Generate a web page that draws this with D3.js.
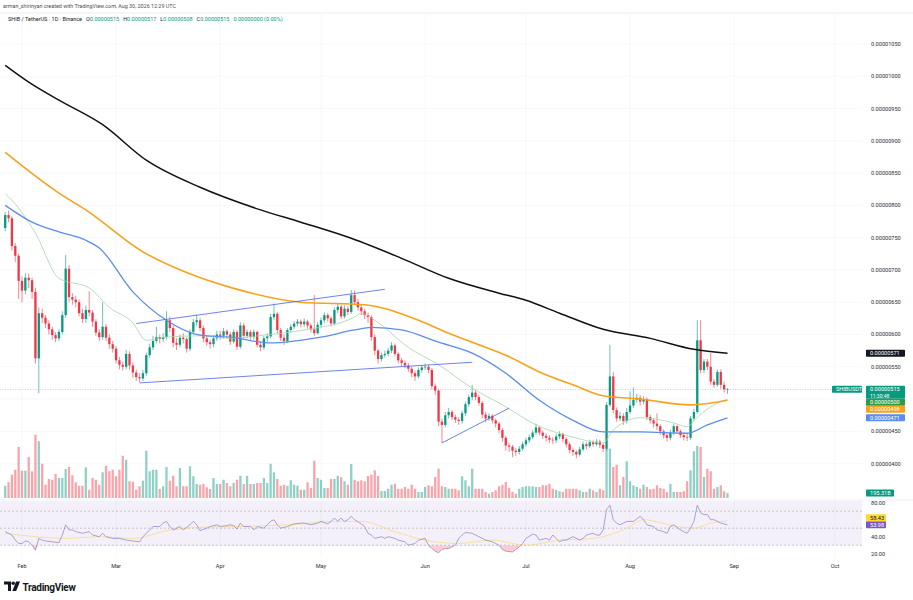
<!DOCTYPE html>
<html>
<head>
<meta charset="utf-8">
<script src="https://cdn.jsdelivr.net/npm/d3@7"></script>
<style>
  html, body { margin: 0; padding: 0; background: #fff; }
  svg { display: block; font-family: Roboto, "Liberation Sans", sans-serif; }
</style>
</head>
<body>
<svg id="chart" width="913" height="600"></svg>
<script>
// SHIB/USDT daily, prices in 1e-8 USDT, day 0 = 2026-01-27
const startDay = Date.UTC(2026, 0, 27);
const firstOpen = 765;

const closes = [
  785,780,737,722,683,668,688,684,666,563, 633,626,617,608,599,594,604,630,702,658,
  654,650,633,624,638,634,620,603,596,612, 595,585,578,560,553,550,570,552,541,534,
  532,540,568,580,590,596,593,596,622,610, 587,584,595,593,578,604,619,622,610,594,
  588,585,594,600,598,605,600,589,604,581, 614,598,604,596,604,584,580,594,597,627,
  632,607,595,590,607,612,617,620,616,620, 614,608,602,615,622,630,625,617,638,643,
  628,640,635,661,650,642,636,630,627,596, 575,562,568,570,575,583,570,560,556,552,
  547,540,535,545,549,550,545,520,513,465, 460,475,480,472,468,466,478,492,503,510,
  503,494,476,470,474,467,462,452,440,428, 426,420,418,423,430,436,441,448,456,448,
  443,440,437,436,442,446,438,430,421,418, 414,422,430,427,433,430,434,429,423,491,
  535,483,470,474,466,480,490,499,502,496, 500,472,467,462,458,450,444,440,448,458,
  450,444,441,440,470,480,591,545,558,550, 527,522,542,522,515,515
];
const highs = [
  790,792,783,742,725,690,695,694,688,672, 642,640,630,622,612,604,608,636,723,708,
  664,660,654,640,645,667,638,624,608,650, 616,600,590,582,565,558,576,574,557,546,
  540,545,572,586,598,612,600,602,636,628, 614,595,600,602,596,608,624,631,626,614,
  598,592,599,606,606,610,608,604,608,607, 619,618,608,607,608,606,590,598,602,632,
  648,635,610,600,610,616,621,624,623,625, 623,617,661,619,626,634,633,628,642,648,
  646,645,644,669,668,655,647,640,634,630, 600,578,572,575,579,588,586,573,564,560,
  556,550,544,549,553,555,553,548,524,516, 470,480,486,483,476,472,482,496,507,522,
  514,507,497,480,478,477,470,465,455,443, 432,429,424,427,434,440,445,452,462,458,
  451,447,444,441,446,450,448,441,433,425, 421,426,434,433,437,436,438,437,432,495,
  584,542,487,480,478,486,512,518,508,506, 504,503,476,470,478,461,453,448,452,462,
  460,453,448,446,474,485,622,622,562,562, 571,531,546,546,527,517
];
const lows = [
  760,774,730,712,655,650,662,672,655,555, 509,618,610,600,592,588,590,600,626,650,
  646,642,628,618,618,628,612,598,590,592, 590,578,572,555,546,544,546,546,533,528,
  526,528,536,564,576,586,586,588,592,604, 580,576,580,586,572,574,600,614,605,588,
  582,578,580,590,592,594,595,584,586,576, 578,594,594,592,592,580,574,576,588,594,
  622,602,590,584,587,603,608,613,611,612, 609,603,598,600,611,618,620,612,614,633,
  624,625,630,632,645,637,630,624,618,590, 568,555,558,564,566,571,566,555,550,548,
  542,534,528,532,541,545,540,515,506,458, 432,456,470,467,463,460,462,474,488,498,
  498,490,470,464,466,462,456,447,434,420, 418,410,412,414,420,426,432,438,445,444,
  438,434,432,430,432,438,433,425,416,412, 408,411,419,422,424,426,427,424,418,420,
  488,478,465,466,460,462,477,486,494,490, 492,467,462,456,452,445,439,434,436,444,
  446,440,436,435,437,466,477,540,540,545, 522,517,519,516,510,508
];
// volume in billions of SHIB
const volumes = [
  490,630,930,1130,2040,1090,1090,1640,1070,2530, 2270,1370,530,760,730,960,800,800,1160,1240,
  910,630,490,490,1230,330,800,730,530,1030, 1290,1070,1130,870,1130,1690,1530,670,640,330,
  470,690,1890,1070,1130,1130,360,470,1240,690, 890,470,1200,470,470,1270,870,560,530,560,
  430,360,800,560,560,730,600,470,600,730, 890,560,890,560,560,600,600,800,600,1370,
  1030,760,490,530,490,710,530,490,330,330, 630,400,1490,800,730,400,400,760,760,890,
  830,670,530,1360,730,670,710,670,880,930, 1110,880,280,280,370,530,570,370,370,440,
  370,530,370,240,240,440,510,470,840,1170, 470,440,370,370,370,310,870,710,470,1170,
  370,370,370,240,170,240,310,470,530,640, 410,240,170,370,440,470,470,470,440,440,
  510,510,570,370,330,270,240,370,370,370, 370,310,240,240,370,310,240,370,310,1970,
  1970,1240,1330,510,840,1470,670,510,440,370, 530,440,350,370,510,400,370,240,570,240,
  240,240,270,670,1110,1870,2080,2040,840,1170, 1070,370,440,510,270,195.31
];

// moving averages: [day, price]
const sma200 = [[0,1017],[7,991],[16,963],[29,925],[42,870],[58,828],[76,793],[88,774],[103,749],
  [118,718],[132,687],[147,664],[155,653],[165,633],[178,608],[192,594],[205,577],[215,571]];
const sma100 = [[0,882],[16,819],[24,793],[41,728],[54,696],[67,673],[88,650],[107,646],[123,622],
  [132,602],[139,588],[149,568],[159,542],[169,522],[178,505],[189,500],[204,491],[215,498]];
const sma50 = [[0,800],[8,774],[16,759],[24,746],[28,734],[38,666],[48,622],[58,599],[67,596],
  [79,587],[94,596],[104,607],[109,611],[118,607],[129,588],[139,571],[149,540],[159,498],
  [169,467],[178,449],[189,449],[203,447],[209,460],[215,471]];
const sma20 = [[0,818],[2,808],[9,757],[16,687],[25,672],[31,642],[38,618],[42,591],[48,596],
  [58,598],[67,594],[77,599],[89,607],[104,627],[106,633],[110,622],[120,580],[129,553],
  [139,517],[149,488],[158,460],[169,441],[178,432],[181,452],[189,471],[199,463],[203,457],
  [206,472],[211,491],[215,500]];

// hand-drawn trend lines: [day, price] pairs
const trendLines = [
  [[39,617],[113,670]],
  [[40,525],[139,557]],
  [[130,432],[150,486]]
];

// RSI(14) and its moving average: [day, value]
const rsiPts = [[0,46],[2,42],[3,36],[4,32],[5,32],[6,35],[7,34],[8,30],[9,24],[10,38],[11,36],
  [12,35],[14,34],[16,33],[17,42],[18,54],[19,48],[20,48],[21,46],[23,44],[25,46],[26,42],[28,40],
  [29,44],[30,40],[32,38],[34,38],[36,36],[38,35],[40,34],[41,40],[43,48],[44,52],[46,52],[47,56],
  [48,58],[49,52],[50,48],[51,50],[52,52],[53,48],[55,54],[56,58],[57,54],[58,47],[60,50],[61,52],
  [63,54],[64,52],[66,53],[67,54],[68,53],[69,49],[70,56],[71,52],[73,52],[74,48],[75,52],[77,50],
  [78,54],[79,58],[80,60],[81,54],[82,50],[84,52],[86,55],[88,56],[89,56],[91,54],[93,56],[94,58],
  [96,55],[97,58],[98,62],[99,58],[100,62],[101,58],[102,60],[103,64],[104,60],[106,55],[107,52],
  [108,44],[109,42],[110,38],[112,40],[113,38],[114,40],[116,38],[117,36],[119,34],[120,30],[122,32],
  [123,36],[125,38],[126,30],[127,26],[128,23],[129,21],[130,25],[131,26],[132,26],[134,30],[135,38],
  [136,42],[137,45],[139,44],[141,40],[143,36],[145,34],[146,32],[147,30],[148,25],[149,23],[151,22],
  [152,25],[153,28],[154,32],[155,38],[157,43],[158,42],[159,36],[161,38],[162,36],[163,42],[164,38],
  [165,34],[166,36],[167,36],[169,40],[171,36],[172,38],[173,42],[175,44],[176,42],[177,42],[178,48],
  [179,72],[180,77],[181,60],[182,56],[183,54],[184,56],[185,58],[187,58],[188,61],[189,64],[190,60],
  [191,54],[193,52],[194,48],[196,46],[197,44],[198,52],[199,54],[201,48],[202,46],[203,44],[204,50],
  [205,58],[206,77],[207,68],[208,66],[209,66],[210,60],[211,60],[213,56],[214,55],[215,53.98]];
const rsiMaPts = [[0,44],[9,40],[18,38],[28,40],[38,38],[48,47],[58,51],[70,52],[78,53],[88,55],
  [98,58],[106,58],[116,46],[125,36],[135,32],[145,36],[155,30],[165,36],[175,38],[185,50],
  [190,60],[200,52],[205,50],[210,56],[215,58.43]];

const priceTicks = [400,450,500,550,600,650,700,750,800,850,900,950,1000,1050];
const hiddenPriceTicks = [500];
const monthNames = ['Feb','Mar','Apr','May','Jun','Jul','Aug','Sep','Oct'];
const monthStarts = ['2026-02-01','2026-03-01','2026-04-01','2026-05-01','2026-06-01',
  '2026-07-01','2026-08-01','2026-09-01','2026-10-01'];
const rsiTicks = [80, 40, 20];
const rsiLevels = [70, 50, 30];

// ---------- layout ----------
const svg = d3.select('#chart');
const plotRight = 862;
const mainTop = 14, mainBottom = 500, rsiBottom = 558;
const UP = '#089981', DOWN = '#f23645';
const axisText = '#2a2e39';

const dayDate = i => new Date(startDay + i * 864e5);
const x = d3.scaleUtc()
  .domain([new Date('2026-02-01T00:00:00Z'), new Date('2026-10-01T00:00:00Z')])
  .range([22, 835]);
const y = d3.scaleLinear().domain([400, 1050]).range([463.6, 44]);
const yVol = d3.scaleLinear().domain([0, 2560]).range([498, 434]);
const yRsi = d3.scaleLinear().domain([20, 80]).range([553.7, 502.7]);
const fmt = v => (v / 1e8).toFixed(8);

const candles = closes.map((c, i) => ({
  i, c, o: i ? closes[i - 1] : firstOpen, h: highs[i], l: lows[i], v: volumes[i]
}));

const defs = svg.append('defs');
defs.append('clipPath').attr('id', 'mainClip')
  .append('rect').attr('x', 0).attr('y', mainTop).attr('width', plotRight).attr('height', mainBottom - mainTop);
defs.append('clipPath').attr('id', 'rsiClip')
  .append('rect').attr('x', 0).attr('y', mainBottom).attr('width', plotRight).attr('height', rsiBottom - mainBottom);
defs.append('clipPath').attr('id', 'overSold')
  .append('rect').attr('x', 0).attr('y', yRsi(30)).attr('width', plotRight).attr('height', 40);

// header
svg.append('text').attr('x', 3).attr('y', 8).attr('font-size', 5.4).attr('fill', '#4a4e59')
  .text('arman_shirinyan created with TradingView.com, Aug 30, 2026 12:29 UTC');
svg.append('line').attr('x1', 0).attr('x2', 913).attr('y1', 13).attr('y2', 13)
  .attr('stroke', '#e0e3eb').attr('stroke-width', 0.6);

// grid
const grid = svg.append('g').attr('stroke', '#f0f3fa').attr('stroke-width', 0.6);
grid.selectAll('.h').data(priceTicks).join('line')
  .attr('x1', 0).attr('x2', plotRight).attr('y1', d => y(d)).attr('y2', d => y(d));
grid.selectAll('.v').data(monthStarts).join('line')
  .attr('x1', d => x(new Date(d + 'T00:00:00Z'))).attr('x2', d => x(new Date(d + 'T00:00:00Z')))
  .attr('y1', mainTop).attr('y2', rsiBottom);

// legend
const legend = svg.append('text').attr('x', 8).attr('y', 21).attr('font-size', 5.5).attr('fill', '#131722');
const legendParts = [
  ['SHIB / TetherUS · 1D · Binance', '#131722', 0],
  ['O', '#131722', 4], ['0.00000515', UP, 0],
  ['H', '#131722', 4], ['0.00000517', UP, 0],
  ['L', '#131722', 4], ['0.00000508', UP, 0],
  ['C', '#131722', 4], ['0.00000515', UP, 0],
  ['0.00000000 (0.00%)', UP, 4]
];
legend.selectAll('tspan').data(legendParts).join('tspan')
  .attr('fill', d => d[1]).attr('dx', d => d[2]).text(d => d[0]);

// main pane
const main = svg.append('g').attr('clip-path', 'url(#mainClip)');

main.selectAll('.vol').data(candles).join('rect')
  .attr('x', d => x(dayDate(d.i)) - 1.15).attr('width', 2.3)
  .attr('y', d => yVol(d.v)).attr('height', d => yVol(0) - yVol(d.v))
  .attr('fill', d => d.c >= d.o ? 'rgba(8,153,129,0.45)' : 'rgba(242,54,69,0.45)');

// current price line
main.append('line').attr('x1', 0).attr('x2', plotRight).attr('y1', y(515)).attr('y2', y(515))
  .attr('stroke', UP).attr('stroke-width', 0.6).attr('stroke-dasharray', '1,1.5').attr('opacity', 0.6);

const cg = main.append('g');
cg.selectAll('.wick').data(candles).join('line')
  .attr('x1', d => x(dayDate(d.i))).attr('x2', d => x(dayDate(d.i)))
  .attr('y1', d => y(d.h)).attr('y2', d => y(d.l))
  .attr('stroke', d => d.c >= d.o ? UP : DOWN).attr('stroke-width', 0.6);
cg.selectAll('.body').data(candles).join('rect')
  .attr('x', d => x(dayDate(d.i)) - 1.15).attr('width', 2.3)
  .attr('y', d => y(Math.max(d.o, d.c)))
  .attr('height', d => Math.max(0.6, Math.abs(y(d.o) - y(d.c))))
  .attr('fill', d => d.c >= d.o ? UP : DOWN);

const maLine = d3.line().x(d => x(dayDate(d[0]))).y(d => y(d[1])).curve(d3.curveMonotoneX);
const maStyles = [
  [sma20, '#a5d6a7', 0.8],
  [sma50, '#5b8def', 1.3],
  [sma100, '#f7a21b', 1.6],
  [sma200, '#111111', 1.5]
];
main.selectAll('.ma').data(maStyles).join('path')
  .attr('d', d => maLine(d[0])).attr('fill', 'none')
  .attr('stroke', d => d[1]).attr('stroke-width', d => d[2]);

main.selectAll('.trend').data(trendLines).join('path')
  .attr('d', d => d3.line().x(p => x(dayDate(p[0]))).y(p => y(p[1]))(d))
  .attr('stroke', '#4a63e8').attr('stroke-width', 0.8).attr('fill', 'none');

// price axis labels
const axisG = svg.append('g').attr('font-size', 5.6).attr('fill', axisText);
axisG.selectAll('text').data(priceTicks.filter(t => !hiddenPriceTicks.includes(t))).join('text')
  .attr('x', 871).attr('y', d => y(d) + 2).text(d => fmt(d));

function tag(g, yc, h, bg, lines, fg, x0, w) {
  g.append('rect').attr('x', x0).attr('y', yc - 3.5).attr('width', w).attr('height', h)
    .attr('fill', bg).attr('rx', 0.8);
  lines.forEach((t, k) => {
    g.append('text').attr('x', x0 + 4).attr('y', yc + 2 + k * 6.2)
      .attr('font-size', k ? 5 : 5.6).attr('fill', fg).text(t);
  });
}

const tagsG = svg.append('g');
const priceTags = [
  { v: 571, bg: '#131722', fg: '#fff', lines: [fmt(571)], h: 7 },
  { v: 515, bg: UP, fg: '#fff', lines: [fmt(515), '11:30:48'], h: 13 },
  { v: 500, bg: '#2e9a48', fg: '#fff', lines: [fmt(500)], h: 7 },
  { v: 498, bg: '#f7a21b', fg: '#fff', lines: [fmt(498)], h: 7 },
  { v: 471, bg: '#5b8def', fg: '#fff', lines: [fmt(471)], h: 7 }
];
let prevBottom = -Infinity;
priceTags.sort((a, b) => y(a.v) - y(b.v)).forEach(t => {
  let top = Math.max(y(t.v) - 3.5, prevBottom);
  prevBottom = top + t.h;
  tag(tagsG, top + 3.5, t.h, t.bg, t.lines, t.fg, 866, 39);
});
tag(tagsG, y(515), 7, UP, ['SHIBUSDT'], '#fff', 832, 30);
tag(tagsG, yVol(195.31), 7, UP, ['195.31B'], '#fff', 866, 28);

// pane separator
svg.append('line').attr('x1', 0).attr('x2', 913).attr('y1', mainBottom).attr('y2', mainBottom)
  .attr('stroke', '#e0e3eb').attr('stroke-width', 0.5);

// RSI pane
const rsiG = svg.append('g').attr('clip-path', 'url(#rsiClip)');
rsiG.append('rect').attr('x', 0).attr('width', plotRight)
  .attr('y', mainBottom + 1).attr('height', yRsi(30) - mainBottom - 1).attr('fill', 'rgba(126,87,194,0.09)');
rsiG.selectAll('.lvl').data(rsiLevels).join('line')
  .attr('x1', 0).attr('x2', plotRight).attr('y1', d => yRsi(d)).attr('y2', d => yRsi(d))
  .attr('stroke', '#9598a1').attr('stroke-width', 0.5).attr('stroke-dasharray', '2,2');

const rsiX = d => x(dayDate(d[0]));
rsiG.append('path').datum(rsiPts).attr('clip-path', 'url(#overSold)')
  .attr('d', d3.area().x(rsiX).y0(yRsi(30)).y1(d => yRsi(d[1])))
  .attr('fill', 'rgba(242,54,69,0.25)');
rsiG.append('path').datum(rsiMaPts)
  .attr('d', d3.line().x(rsiX).y(d => yRsi(d[1])).curve(d3.curveMonotoneX))
  .attr('fill', 'none').attr('stroke', '#f5d76e').attr('stroke-width', 0.8).attr('opacity', 0.8);
rsiG.append('path').datum(rsiPts)
  .attr('d', d3.line().x(rsiX).y(d => yRsi(d[1])))
  .attr('fill', 'none').attr('stroke', '#8e7cc3').attr('stroke-width', 0.7);

axisG.append('g').selectAll('text').data(rsiTicks).join('text')
  .attr('x', 871).attr('y', d => yRsi(d) + 2).text(d => d.toFixed(2));
tag(tagsG, yRsi(53.98), 7, '#7e57c2', ['53.98'], '#fff', 866, 20);
tag(tagsG, yRsi(53.98) - 7, 7, '#fdd835', ['58.43'], '#131722', 866, 20);

// time axis
svg.append('g').attr('font-size', 5.6).attr('fill', axisText).attr('text-anchor', 'middle')
  .selectAll('text').data(monthStarts).join('text')
  .attr('x', d => x(new Date(d + 'T00:00:00Z'))).attr('y', 568)
  .text((d, k) => monthNames[k]);

// TradingView logo
const logo = svg.append('g').attr('fill', '#131722');
logo.append('path').attr('d', 'M4,581.5 H11 V591 H8 V584.5 H4 Z');
logo.append('circle').attr('cx', 13.2).attr('cy', 583.2).attr('r', 1.7);
logo.append('path').attr('d', 'M16,581.5 H20 L16.2,591 H12.4 Z');
logo.append('text').attr('x', 22.5).attr('y', 590.5).attr('font-size', 10).attr('font-weight', 'bold')
  .attr('letter-spacing', -0.3).text('TradingView');
</script>
</body>
</html>
